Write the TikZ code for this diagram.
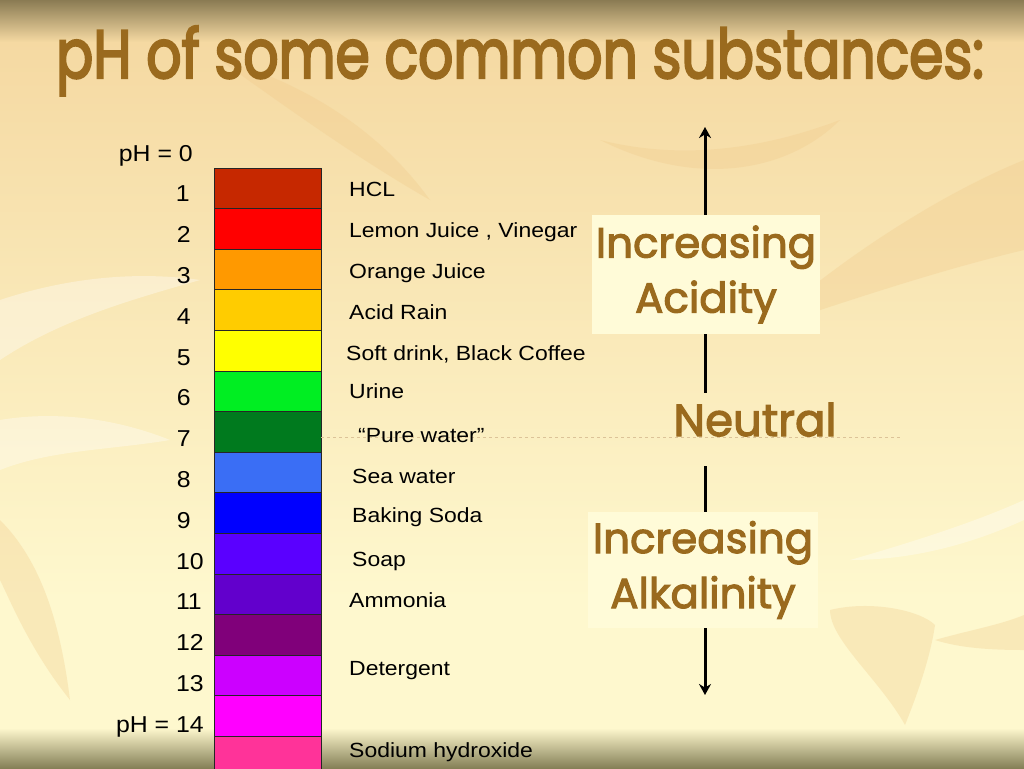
\documentclass[tikz,border=0pt]{standalone}
\usepackage{fontspec}
\usepackage{graphicx}
\setmainfont{Liberation Sans}
\newfontfamily\titlefont[FakeBold=3.5]{Poppins}
\newfontfamily\sidefont[FakeBold=2.6]{Poppins}
\usetikzlibrary{arrows.meta}
\definecolor{bgtop}{HTML}{8A7B53}
\definecolor{bgtan}{HTML}{F5D9A2}
\definecolor{bgcream}{HTML}{FEF8CE}
\definecolor{bgbot}{HTML}{858057}
\definecolor{leafc}{HTML}{F0C888}
\definecolor{titlebrown}{HTML}{9A6A1E}
\definecolor{boxfill}{HTML}{FFFBD8}
\definecolor{dashc}{HTML}{DCC398}
\definecolor{c1}{HTML}{C62800}
\definecolor{c2}{HTML}{FF0000}
\definecolor{c3}{HTML}{FF9900}
\definecolor{c4}{HTML}{FFCC00}
\definecolor{c5}{HTML}{FFFF00}
\definecolor{c6}{HTML}{00EE22}
\definecolor{c7}{HTML}{007A1E}
\definecolor{c8}{HTML}{3A6EF5}
\definecolor{c9}{HTML}{0000FF}
\definecolor{c10}{HTML}{5A00FF}
\definecolor{c11}{HTML}{6200CC}
\definecolor{c12}{HTML}{80007A}
\definecolor{c13}{HTML}{CC00FF}
\definecolor{c14}{HTML}{FF00FF}
\definecolor{c15}{HTML}{FF3399}
\newcommand\widetext[2]{\scalebox{#1}[1]{#2}}
\tikzset{
  phbox/.style={draw=black!85, line width=0.9pt, minimum width=107pt, minimum height=40.6pt, inner sep=0pt},
  num/.style={font=\fontsize{23}{27}\selectfont, inner sep=0pt, anchor=base east},
  subst/.style={font=\fontsize{20.5}{24}\selectfont, inner sep=0pt, anchor=base west},
  sidebox/.style={fill=boxfill, draw=none, align=center, inner sep=0pt, text=titlebrown,
    font=\sidefont\fontsize{42}{55}\selectfont},
  arrowline/.style={line width=3pt, black},
  leaf/.style={fill=leafc, fill opacity=0.3, draw=none},
  lightleaf/.style={fill=white, fill opacity=0.35, draw=none}
}
\begin{document}
\begin{tikzpicture}[x=1pt,y=-1pt]
\useasboundingbox (0,0) rectangle (1024,768);
% background
\shade[top color=bgtan, bottom color=bgcream] (0,40) rectangle (1024,600);
\fill[bgcream] (0,599) rectangle (1024,730);
\shade[top color=bgtop, bottom color=bgtan] (0,0) rectangle (1024,42);
\shade[top color=bgcream, bottom color=bgbot] (0,728) rectangle (1024,768);
% faint leaves
\fill[leaf] (760,330) .. controls (850,250) and (950,190) .. (1024,160) -- (1024,250) .. controls (940,270) and (850,300) .. (760,330) -- cycle;
\fill[leaf] (905,725) .. controls (880,680) and (830,640) .. (830,610) .. controls (870,600) and (920,610) .. (935,625) .. controls (930,660) and (915,700) .. (905,725) -- cycle;
\fill[leaf] (935,640) .. controls (970,630) and (1000,625) .. (1024,615) -- (1024,650) .. controls (990,650) and (960,648) .. (935,640) -- cycle;
\fill[leaf] (600,140) .. controls (680,160) and (760,150) .. (840,120) .. controls (790,170) and (700,190) .. (600,140) -- cycle;
\fill[leaf] (0,520) .. controls (40,560) and (60,620) .. (70,700) .. controls (30,650) and (10,600) .. (0,580) -- cycle;
\fill[leaf] (220,60) .. controls (300,80) and (380,130) .. (430,200) .. controls (360,160) and (290,110) .. (220,60) -- cycle;
\fill[lightleaf] (0,300) .. controls (60,280) and (130,270) .. (200,280) .. controls (130,300) and (60,320) .. (0,360) -- cycle;
\fill[lightleaf] (0,420) .. controls (60,410) and (120,420) .. (170,440) .. controls (110,450) and (50,450) .. (0,470) -- cycle;
\fill[lightleaf] (850,560) .. controls (920,540) and (980,520) .. (1024,500) -- (1024,520) .. controls (980,540) and (920,560) .. (850,560) -- cycle;
% title
\node[font=\titlefont\fontsize{60}{70}\selectfont, text=titlebrown, anchor=base, inner sep=0pt] (title) at (520,78) {\resizebox{928pt}{52pt}{pH of some common substances:}};
% color boxes
\foreach \i in {1,...,15} {
  \node[phbox, fill=c\i] (b\i) at (267.5, {168+(\i-0.5)*40.6}) {};
}
% dashed neutral line
\coordinate (dashend) at (900,437);
\draw[dashc, dashed, line width=0.8pt] (b7.east |- dashend) -- (dashend);
% pH numbers
\node[num] (n0) at (193,161) {\widetext{1.08}{pH = 0}};
\foreach \k/\x in {1/190,2/191,3/191,4/191,5/191,6/191,7/191,8/191,9/191,10/204,11/202,12/204,13/204} {
  \node[num] (n\k) at (\x, {161+40.8*\k}) {\widetext{1.08}{\k}};
}
\node[num] (n14) at (204,732) {\widetext{1.08}{pH = 14}};
% substances
\node[subst] (s1) at (349,196) {\widetext{1.12}{HCL}};
\node[subst] (s2) at (349,237) {\widetext{1.12}{Lemon Juice , Vinegar}};
\node[subst] (s3) at (349,278) {\widetext{1.12}{Orange Juice}};
\node[subst] (s4) at (349,319) {\widetext{1.12}{Acid Rain}};
\node[subst] (s5) at (346,360) {\widetext{1.12}{Soft drink, Black Coffee}};
\node[subst] (s6) at (349,398) {\widetext{1.12}{Urine}};
\node[subst] (s7) at (358,442) {\widetext{1.12}{“Pure water”}};
\node[subst] (s8) at (352,483) {\widetext{1.12}{Sea water}};
\node[subst] (s9) at (352,522) {\widetext{1.12}{Baking Soda}};
\node[subst] (s10) at (352,566) {\widetext{1.12}{Soap}};
\node[subst] (s11) at (349,607) {\widetext{1.12}{Ammonia}};
\node[subst] (s12) at (349,675) {\widetext{1.12}{Detergent}};
\node[subst] (s13) at (349,757) {\widetext{1.12}{Sodium hydroxide}};
% right side
\node[sidebox, minimum width=228pt, minimum height=119pt] (acid) at (706,274.5) {Increasing\\Acidity};
\node[sidebox, minimum width=230pt, minimum height=116pt] (alk) at (703,570) {Increasing\\Alkalinity};
\node[font=\sidefont\fontsize{45}{52}\selectfont, text=titlebrown, anchor=base, inner sep=0pt] (neutral) at (755,436) {Neutral};
\coordinate (top) at (705,127);
\coordinate (bot) at (705,695);
\coordinate (ntop) at (705,393);
\coordinate (nbot) at (705,466);
\draw[arrowline, -{Stealth[length=11pt,width=12pt]}] (acid.north -| top) -- (top);
\draw[arrowline] (acid.south -| top) -- (ntop);
\draw[arrowline] (nbot) -- (alk.north -| nbot);
\draw[arrowline, -{Stealth[length=11pt,width=12pt]}] (alk.south -| bot) -- (bot);
\end{tikzpicture}
\end{document}
